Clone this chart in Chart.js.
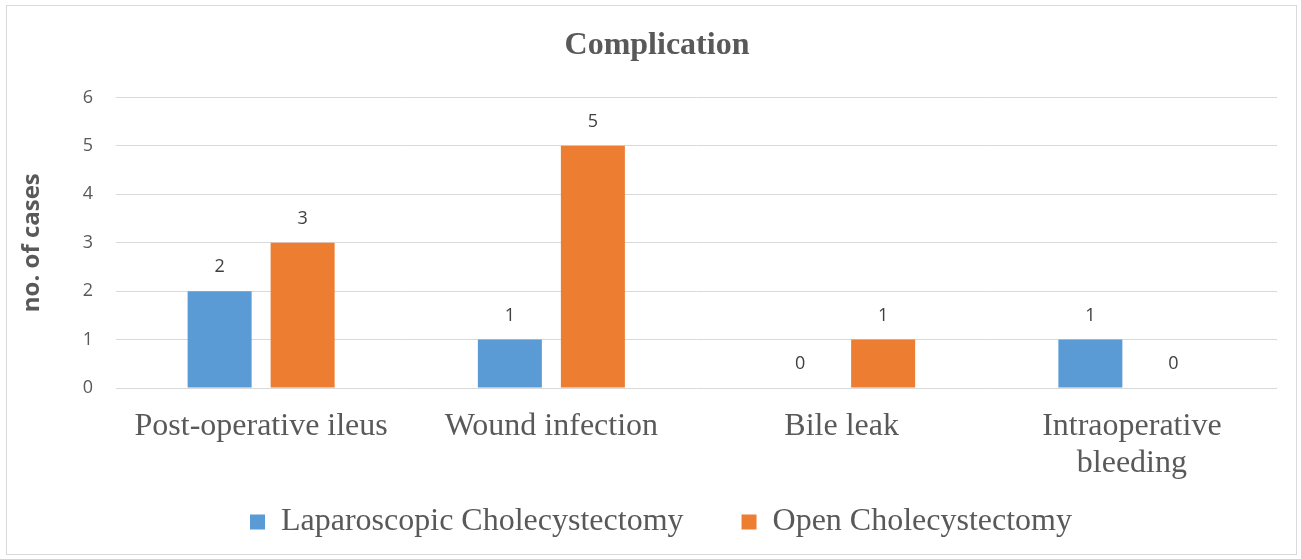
<!DOCTYPE html>
<html>
<head>
<meta charset="utf-8">
<script src="https://cdn.jsdelivr.net/npm/chart.js@4.4.1/dist/chart.umd.min.js"></script>
<style>
  html, body { margin: 0; padding: 0; background: #fff; }
  #wrap { position: absolute; left: 6px; top: 5px; width: 1289px; height: 548px; border: 1px solid #d9d9d9; }
</style>
</head>
<body>
<div id="wrap"><canvas id="g"></canvas></div>
<script>
// dados
const categorias = ['Post-operative ileus', 'Wound infection', 'Bile leak', ['Intraoperative', 'bleeding']];
const series = ['Laparoscopic Cholecystectomy', 'Open Cholecystectomy'];
const laparoscopica = [2, 1, 0, 1];
const aberta = [3, 5, 1, 0];
const ticksY = [0, 1, 2, 3, 4, 5, 6];

const serif = '"Liberation Serif", "Times New Roman", serif';
const sans = '"Open Sans", "Liberation Sans", sans-serif';

// rótulos de valor em cima de cada barra
const rotulos = {
  id: 'rotulos',
  afterLayout(chart) {
    // centraliza título e legenda como no original (deslocados p/ a direita)
    chart.titleBlock.left += 15; chart.titleBlock.right += 15;
    chart.legend.left += 19; chart.legend.right += 19;
  },
  afterDatasetsDraw(chart) {
    const ctx = chart.ctx;
    ctx.save();
    ctx.font = '18px ' + sans;
    ctx.fillStyle = '#404040';
    ctx.textAlign = 'center';
    ctx.textBaseline = 'middle';
    chart.data.datasets.forEach((ds, i) => {
      chart.getDatasetMeta(i).data.forEach((bar, j) => {
        ctx.fillText(String(ds.data[j]), bar.x, bar.y - 24);
      });
    });
    ctx.restore();
  }
};

new Chart(document.getElementById('g'), {
  type: 'bar',
  data: {
    labels: categorias,
    datasets: [
      { label: series[0], data: laparoscopica, backgroundColor: '#5B9BD5' },
      { label: series[1], data: aberta, backgroundColor: '#ED7D31' },
    ],
  },
  options: {
    responsive: true,
    maintainAspectRatio: false,
    animation: false,
    datasets: { bar: { categoryPercentage: 0.572, barPercentage: 0.771 } },
    layout: { padding: { left: 0, right: 19, top: 0, bottom: 6 } },
    plugins: {
      title: {
        display: true,
        text: 'Complication',
        color: '#595959',
        font: { family: serif, size: 32, weight: 'bold', lineHeight: 1.2 },
        padding: { top: 21, bottom: 32 },
      },
      legend: {
        position: 'bottom',
        labels: {
          color: '#595959',
          font: { family: serif, size: 32 },
          boxWidth: 15,
          boxHeight: 15,
          padding: 10,
          generateLabels(chart) {
            const itens = Chart.defaults.plugins.legend.labels.generateLabels(chart);
            itens[0].text += '      '; // espaço entre os itens
            return itens;
          },
        },
      },
      tooltip: { enabled: false },
    },
    scales: {
      x: {
        afterFit: (s) => { s.height = 108; },
        grid: { display: false, drawTicks: false },
        border: { display: false },
        ticks: { color: '#595959', font: { family: serif, size: 32, lineHeight: 1.16 }, padding: 20, maxRotation: 0 },
      },
      y: {
        min: 0, max: 6,
        afterFit: (s) => { s.width = 109; },
        afterBuildTicks: (s) => { s.ticks = ticksY.map(v => ({ value: v })); },
        grid: { color: '#d9d9d9', drawTicks: false },
        border: { display: false },
        ticks: { color: '#595959', font: { family: sans, size: 18 }, padding: 23 },
        title: {
          display: true,
          text: 'no. of cases',
          color: '#595959',
          font: { family: sans, size: 24, weight: 'bold' },
          padding: { top: 11, bottom: 0 },
        },
      },
    },
  },
  plugins: [rotulos],
});
</script>
</body>
</html>
